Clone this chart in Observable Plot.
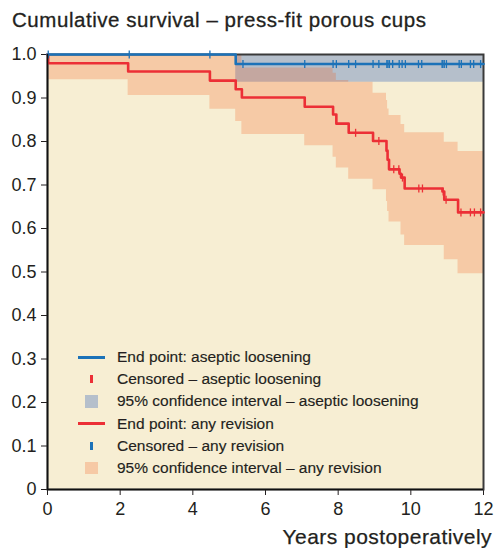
<!DOCTYPE html>
<html><head><meta charset="utf-8">
<script src="https://cdn.jsdelivr.net/npm/d3@7"></script>
<script src="https://cdn.jsdelivr.net/npm/@observablehq/plot@0.6"></script>
<style>
body{margin:0;background:#fff;font-family:"Liberation Sans",Arial,sans-serif;color:#231f20}
#wrap{position:relative;width:495px;height:548px;overflow:hidden}
#chart{position:absolute;left:0;top:0}
#title{position:absolute;left:12px;top:8px;font-size:20.5px;line-height:24px;letter-spacing:0.55px;white-space:nowrap;-webkit-text-stroke:0.3px #231f20}
#xlabel{position:absolute;right:3px;top:525px;font-size:21px;line-height:24px;letter-spacing:0.45px;white-space:nowrap;-webkit-text-stroke:0.25px #231f20}
#legend{position:absolute;left:78px;top:346px;font-size:15.5px;-webkit-text-stroke:0.15px #231f20}
.row{position:relative;height:22.2px;line-height:22.2px;white-space:nowrap}
.sym{position:absolute;left:0;top:0;width:27px;height:22.2px}
.txt{position:absolute;left:39px;top:0}
</style></head><body>
<div id="wrap">
<div id="chart"></div>
<div id="title">Cumulative survival – press-fit porous cups</div>
<div id="xlabel">Years postoperatively</div>
<div id="legend"></div>
</div>
<script>
// ---- data ----
const redTime = [0, 0.02, 2.22, 4.47, 5.18, 5.35, 7.08, 7.86, 7.95, 8.29, 8.96, 9.33, 9.36, 9.40, 9.69, 9.73, 9.83, 10.87, 10.92, 11.30, 12];
const redSurv = [1.0, 0.980, 0.961, 0.940, 0.920, 0.901, 0.880, 0.862, 0.841, 0.820, 0.801, 0.779, 0.758, 0.736, 0.726, 0.717, 0.692, 0.685, 0.666, 0.637, 0.637];
const redLowTime = [0, 2.22, 4.47, 5.18, 5.35, 7.08, 7.86, 7.95, 8.29, 8.96, 9.33, 9.36, 9.40, 9.73, 9.83, 10.92, 11.30, 12];
const redLow = [0.942, 0.906, 0.874, 0.846, 0.816, 0.790, 0.764, 0.739, 0.713, 0.689, 0.662, 0.639, 0.615, 0.585, 0.561, 0.528, 0.496, 0.496];
const redUpTime = [0, 5.35, 7.86, 7.95, 8.29, 8.96, 9.33, 9.36, 9.40, 9.73, 9.83, 10.92, 11.30, 12];
const redUp = [1.0, 0.969, 0.957, 0.940, 0.936, 0.911, 0.894, 0.875, 0.860, 0.839, 0.820, 0.798, 0.777, 0.777];
const redCensTime = [8.48, 9.12, 9.53, 9.67, 9.77, 10.22, 10.32, 10.89, 10.97, 11.38, 11.64, 11.75, 11.92];

const blueTime = [0, 5.18, 12];
const blueSurv = [1.0, 0.978, 0.978];
const blueBandTime = [5.18, 12];
const blueLow = [0.936, 0.936];
const blueUp = [1.0, 1.0];
const blueCensTime = [0.02, 2.25, 4.47, 5.38, 7.08, 7.86, 7.95, 8.29, 8.48, 8.96, 9.12, 9.34, 9.37, 9.41, 9.50, 9.68, 9.76, 9.85, 10.21, 10.30, 10.86, 10.88, 10.92, 10.98, 11.33, 11.39, 11.64, 11.73, 11.92];

const xTicks = [0, 2, 4, 6, 8, 10, 12];
const yTicks = [0, 0.1, 0.2, 0.3, 0.4, 0.5, 0.6, 0.7, 0.8, 0.9, 1.0];
const legendLabels = [
  "End point: aseptic loosening",
  "Censored – aseptic loosening",
  "95% confidence interval – aseptic loosening",
  "End point: any revision",
  "Censored – any revision",
  "95% confidence interval – any revision"
];

// ---- styles ----
const BG = "#f7eed3", BLUE = "#1c72b8", RED = "#ec2f36", GRAY = "#b5bfcb", ORANGE = "#f5611f", INK = "#231f20";

function stepAt(times, vals, t) {
  let v = vals[0];
  for (let i = 0; i < times.length; i++) if (times[i] <= t + 1e-9) v = vals[i];
  return v;
}
const redCurve = redTime.map((t, i) => ({t, s: redSurv[i]}));
const blueCurve = blueTime.map((t, i) => ({t, s: blueSurv[i]}));
const bandTimes = Array.from(new Set([...redLowTime, ...redUpTime])).sort((a, b) => a - b);
const redBand = bandTimes.map(t => ({t, lo: stepAt(redLowTime, redLow, t), hi: stepAt(redUpTime, redUp, t)}));
const blueBand = blueBandTime.map((t, i) => ({t, lo: blueLow[i], hi: blueUp[i]}));
const redCens = redCensTime.map(t => ({t, s: stepAt(redTime, redSurv, t)}));
const blueCens = blueCensTime.map(t => ({t, s: stepAt(blueTime, blueSurv, t)}));

const vtick = {draw(ctx, size) { const h = Math.sqrt(size / Math.PI); ctx.moveTo(0, -h); ctx.lineTo(0, h); }};

const chart = Plot.plot({
  width: 495, height: 548,
  marginTop: 54, marginBottom: 59, marginLeft: 47, marginRight: 12,
  style: {fontFamily: "'Liberation Sans', Arial, sans-serif", fontSize: "18px", color: INK, background: "transparent"},
  x: {domain: [0, 12], ticks: xTicks, tickSize: 6, tickPadding: 7, tickFormat: d => String(d), label: null},
  y: {domain: [0, 1], ticks: yTicks, tickSize: 6, tickPadding: 5, tickFormat: d => d === 0 ? "0" : d.toFixed(1), label: null},
  marks: [
    Plot.frame({fill: BG}),
    Plot.areaY(blueBand, {x: "t", y1: "lo", y2: "hi", curve: "step-after", fill: GRAY}),
    Plot.areaY(redBand, {x: "t", y1: "lo", y2: "hi", curve: "step-after", fill: ORANGE, fillOpacity: 0.25}),
    Plot.frame({stroke: "#3a3a3a", strokeWidth: 2}),
    Plot.line(redCurve, {x: "t", y: "s", curve: "step-after", stroke: RED, strokeWidth: 2.6}),
    Plot.line(blueCurve, {x: "t", y: "s", curve: "step-after", stroke: BLUE, strokeWidth: 2.6}),
    Plot.dot(redCens, {x: "t", y: "s", symbol: vtick, r: 4, stroke: RED, fill: "none", strokeWidth: 1.3}),
    Plot.dot(blueCens, {x: "t", y: "s", symbol: vtick, r: 4, stroke: BLUE, fill: "none", strokeWidth: 1.3}),
    Plot.ruleX([0], {stroke: "#111", strokeWidth: 1.5}),
    Plot.ruleY([0], {stroke: "#111", strokeWidth: 1.5})
  ]
});
document.getElementById("chart").appendChild(chart);

// ---- legend ----
const legendSymbols = [
  `<div style="position:absolute;left:0;top:9.6px;width:27px;height:3px;background:${BLUE}"></div>`,
  `<div style="position:absolute;left:12px;top:7px;width:2.6px;height:8px;background:${RED}"></div>`,
  `<div style="position:absolute;left:7px;top:4.8px;width:12.5px;height:12.5px;background:${GRAY}"></div>`,
  `<div style="position:absolute;left:0;top:9.6px;width:27px;height:3px;background:${RED}"></div>`,
  `<div style="position:absolute;left:12px;top:7px;width:2.6px;height:8px;background:${BLUE}"></div>`,
  `<div style="position:absolute;left:7px;top:4.8px;width:12.5px;height:12.5px;background:#f6c9a5"></div>`
];
const leg = document.getElementById("legend");
legendLabels.forEach((lab, i) => {
  const row = document.createElement("div");
  row.className = "row";
  row.innerHTML = `<div class="sym">${legendSymbols[i]}</div><div class="txt">${lab}</div>`;
  leg.appendChild(row);
});
</script>
</body></html>
